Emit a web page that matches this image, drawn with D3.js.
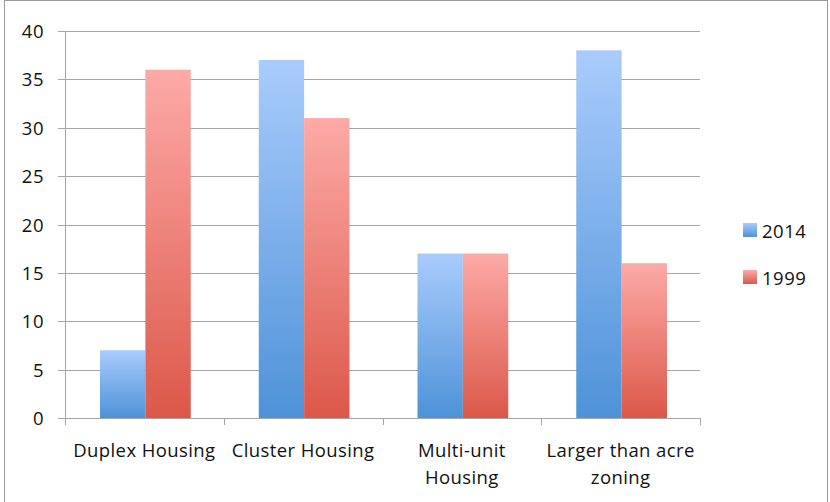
<!DOCTYPE html>
<html>
<head>
<meta charset="utf-8">
<script src="https://d3js.org/d3.v7.min.js"></script>
<style>
  body { margin: 0; background: #fff; }
  text { font-family: "Open Sans", "Liberation Sans", sans-serif; fill: #111; }
</style>
</head>
<body>
<div id="chart"></div>
<script>
var categories = [["Duplex Housing"], ["Cluster Housing"], ["Multi-unit", "Housing"], ["Larger than acre", "zoning"]];
var series = ["2014", "1999"];
var values2014 = [7, 37, 17, 38];
var values1999 = [36, 31, 17, 16];
var yTicks = [0, 5, 10, 15, 20, 25, 30, 35, 40];

var W = 830, H = 502;
var margin = {left: 65, right: 130, top: 31, bottom: 84};
var width = W - margin.left - margin.right,
    height = H - margin.top - margin.bottom;

var svg = d3.select("#chart").append("svg")
  .attr("width", W).attr("height", H);

// outer frame
svg.append("rect")
  .attr("x", 4.5).attr("y", 0.5).attr("width", 823).attr("height", 502)
  .attr("fill", "none").attr("stroke", "#9a9a9a");

var defs = svg.append("defs");
function grad(id, top, bottom) {
  var g = defs.append("linearGradient").attr("id", id)
    .attr("x1", 0).attr("y1", 0).attr("x2", 0).attr("y2", 1);
  g.append("stop").attr("offset", "0%").attr("stop-color", top);
  g.append("stop").attr("offset", "100%").attr("stop-color", bottom);
}
grad("g2014", "#a9ccfc", "#4e92d8");
grad("g1999", "#fdaaa7", "#db5849");
var fills = {"2014": "url(#g2014)", "1999": "url(#g1999)"};

var g = svg.append("g").attr("transform", "translate(" + margin.left + "," + margin.top + ")");

var x0 = d3.scaleBand().domain(d3.range(categories.length)).range([0, width]).paddingInner(0).paddingOuter(0);
var x1 = d3.scaleBand().domain(series).range([35, x0.bandwidth() - 33]);
var y = d3.scaleLinear().domain([0, 40]).range([height, 0]);

// gridlines
g.selectAll(".grid").data(yTicks).enter().append("line")
  .attr("x1", -7).attr("x2", width)
  .attr("y1", function(d) { return Math.round(y(d)) + 0.5; })
  .attr("y2", function(d) { return Math.round(y(d)) + 0.5; })
  .attr("stroke", "#a6a6a6");

// y labels
g.selectAll(".ylab").data(yTicks).enter().append("text")
  .attr("x", -21).attr("y", function(d) { return y(d) + 7; })
  .attr("text-anchor", "end").style("font-size", "18.5px").style("letter-spacing", "0.5px")
  .text(function(d) { return d; });

// bars
var data = categories.map(function(c, i) {
  return [{s: "2014", v: values2014[i]}, {s: "1999", v: values1999[i]}];
});
var grp = g.selectAll(".grp").data(data).enter().append("g")
  .attr("transform", function(d, i) { return "translate(" + x0(i) + ",0)"; });
grp.selectAll("rect").data(function(d) { return d; }).enter().append("rect")
  .attr("x", function(d) { return x1(d.s); })
  .attr("width", x1.bandwidth())
  .attr("y", function(d) { return y(d.v); })
  .attr("height", function(d) { return height - y(d.v); })
  .attr("fill", function(d) { return fills[d.s]; });

// axes lines
g.append("line").attr("x1", 0.5).attr("x2", 0.5).attr("y1", 0).attr("y2", height + 7).attr("stroke", "#a6a6a6");
g.selectAll(".xt").data(d3.range(categories.length + 1)).enter().append("line")
  .attr("x1", function(i) { return Math.round(i * x0.bandwidth()) + 0.5; })
  .attr("x2", function(i) { return Math.round(i * x0.bandwidth()) + 0.5; })
  .attr("y1", height).attr("y2", height + 7).attr("stroke", "#a6a6a6");

// category labels
var cl = g.selectAll(".cat").data(categories).enter().append("text")
  .attr("text-anchor", "middle").style("font-size", "18.5px").style("letter-spacing", "0.4px")
  .attr("transform", function(d, i) { return "translate(" + (x0(i) + x0.bandwidth() / 2) + "," + (height + 39) + ")"; });
cl.selectAll("tspan").data(function(d) { return d; }).enter().append("tspan")
  .attr("x", 0).attr("dy", function(d, j) { return j === 0 ? 0 : 27; })
  .text(function(d) { return d; });

// legend
var leg = svg.selectAll(".leg").data(series).enter().append("g")
  .attr("transform", function(d, i) { return "translate(743," + (223 + i * 47) + ")"; });
leg.append("rect").attr("width", 14).attr("height", 14).attr("fill", function(d) { return fills[d]; });
leg.append("text").attr("x", 19).attr("y", 15).style("font-size", "18.5px").style("letter-spacing", "0.5px").text(function(d) { return d; });
</script>
</body>
</html>
